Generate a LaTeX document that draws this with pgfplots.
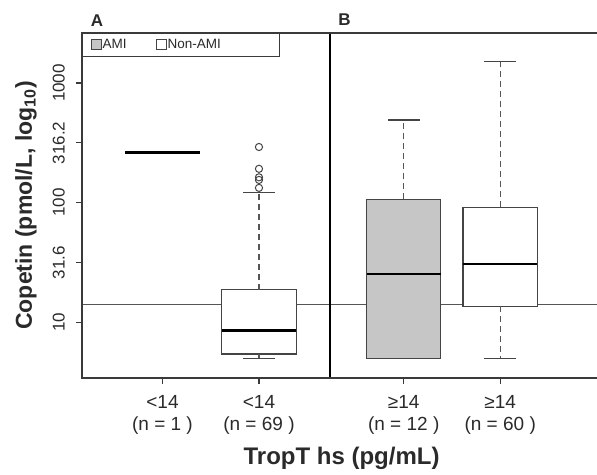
\documentclass[border=0pt]{standalone}
\usepackage{fontspec}
\setmainfont{Liberation Sans}
\usepackage{pgfplots}
\pgfplotsset{compat=1.18}

\definecolor{amigray}{HTML}{C6C6C6}
\definecolor{framecol}{HTML}{3A3A3A}
\definecolor{boxcol}{HTML}{444444}
\definecolor{whiskcol}{HTML}{555555}
\definecolor{txtcol}{HTML}{2A2A2A}

\pgfplotsset{
  whisk/.style={whiskcol, line width=1.2pt, dash pattern=on 6pt off 4pt, forget plot},
  cap/.style={boxcol, line width=1.2pt, forget plot},
  med/.style={black, line width=2.7pt, forget plot},
  boxed/.style={draw=boxcol, line width=1.2pt, forget plot},
}

\begin{document}
\begin{tikzpicture}
\begin{axis}[
    at={(0pt,0pt)}, anchor=south west,
    scale only axis,
    width=515pt, height=345pt,
    xmin=0.166, xmax=5.503,
    ymode=log, ymin=3.433, ymax=2617,
    clip=false,
    axis line style={draw=none},
    tick align=outside,
    major tick length=6pt,
    tick style={framecol, line width=1.1pt},
    xtick pos=lower, ytick pos=left,
    xtick={1,2,3.5,4.5},
    xticklabels={{<14\\(n = 1 )},{<14\\(n = 69 )},{≥14\\(n = 12 )},{≥14\\(n = 60 )}},
    xticklabel style={align=center, anchor=north, inner sep=0pt, yshift=-11pt,
      text=txtcol, font=\fontsize{19}{22.6}\selectfont},
    ytick={10,31.6,100,316.2,1000},
    yticklabels={10,31.6,100,316.2,1000},
    yminorticks=false,
    % rotated labels: yshift moves them away from the axis
    yticklabel style={rotate=90, anchor=south, inner sep=0pt, yshift=11pt,
      text=txtcol, font=\fontsize{17}{20}\selectfont},
    /pgf/number format/assume math mode=true,
    xlabel={TropT hs (pg/mL)},
    xlabel style={at={(axis description cs:0.504,-0.2493)}, anchor=base,
      font=\bfseries\fontsize{24}{27}\selectfont, text=txtcol},
    ylabel={Copetin (pmol/L, log\textsubscript{10})},
    ylabel style={at={(axis description cs:-0.0971,0.5)}, anchor=base, rotate=0,
      font=\bfseries\fontsize{23}{26}\selectfont, text=txtcol},
    legend columns=2,
    legend style={at={(0,1)}, anchor=north west,
      draw=framecol, line width=1.2pt,
      inner xsep=8pt, inner ysep=5pt,
      font=\fontsize{13.5}{15}\selectfont,
      nodes={inner sep=1pt, text=txtcol},
      /tikz/every even column/.append style={column sep=28pt}},
  ]
  % legend swatches
  \addlegendimage{legend image code/.code={\draw[fill=amigray, draw=boxcol, line width=1pt] (0pt,-5pt) rectangle (10pt,5pt);}}
  \addlegendentry{AMI}
  \addlegendimage{legend image code/.code={\draw[fill=white, draw=boxcol, line width=1pt] (0pt,-5pt) rectangle (10pt,5pt);}}
  \addlegendentry{\makebox[103pt][l]{Non-AMI}}

  % cut-off line of copeptin (14 pmol/L)
  \addplot[whiskcol, line width=1pt, forget plot] coordinates {(0.166,14) (5.503,14)};

  % panel A, TropT < 14, AMI (n = 1)
  \addplot[med] coordinates {(0.615,263) (1.385,263)};

  % panel A, TropT < 14, non-AMI
  \addplot[boxed, fill=white] coordinates {(1.615,5.45) (2.385,5.45) (2.385,18.8) (1.615,18.8)} -- cycle;
  \addplot[whisk] coordinates {(2,18.8) (2,122)};
  \addplot[whisk] coordinates {(2,5.45) (2,5.0)};
  \addplot[cap] coordinates {(1.835,122) (2.165,122)};
  \addplot[cap] coordinates {(1.835,5.0) (2.165,5.0)};
  \addplot[med] coordinates {(1.615,8.53) (2.385,8.53)};
  \addplot[only marks, mark=o, mark size=3.6pt, forget plot,
    mark options={draw=boxcol, line width=1pt}]
    coordinates {(2,292) (2,192) (2,163) (2,155) (2,133)};

  % panel B, TropT >= 14, AMI
  \addplot[boxed, fill=amigray] coordinates {(3.115,4.98) (3.885,4.98) (3.885,106.6) (3.115,106.6)} -- cycle;
  \addplot[whisk] coordinates {(3.5,106.6) (3.5,491)};
  \addplot[cap] coordinates {(3.335,491) (3.665,491)};
  \addplot[cap] coordinates {(3.335,4.98) (3.665,4.98)};
  \addplot[med] coordinates {(3.115,25.4) (3.885,25.4)};

  % panel B, TropT >= 14, non-AMI
  \addplot[boxed, fill=white] coordinates {(4.115,13.6) (4.885,13.6) (4.885,91.4) (4.115,91.4)} -- cycle;
  \addplot[whisk] coordinates {(4.5,91.4) (4.5,1507)};
  \addplot[whisk] coordinates {(4.5,13.6) (4.5,4.98)};
  \addplot[cap] coordinates {(4.335,1507) (4.665,1507)};
  \addplot[cap] coordinates {(4.335,4.98) (4.665,4.98)};
  \addplot[med] coordinates {(4.115,30.8) (4.885,30.8)};

  % divider between panels
  \addplot[black, line width=2.5pt, forget plot] coordinates {(2.736,3.433) (2.736,2617)};

  % frame: left, top and bottom only
  \draw[framecol, line width=1.5pt]
    (rel axis cs:1,1) -- (rel axis cs:0,1) -- (rel axis cs:0,0) -- (rel axis cs:1,0);
\end{axis}
\node[font=\bfseries\fontsize{17}{20}\selectfont, text=txtcol] at (15pt,357.5pt) {A};
\node[font=\bfseries\fontsize{17}{20}\selectfont, text=txtcol] at (262.5pt,358pt) {B};
\pgfresetboundingbox
\path (-82pt,-96pt) rectangle (515pt,378pt);
\end{tikzpicture}
\end{document}
